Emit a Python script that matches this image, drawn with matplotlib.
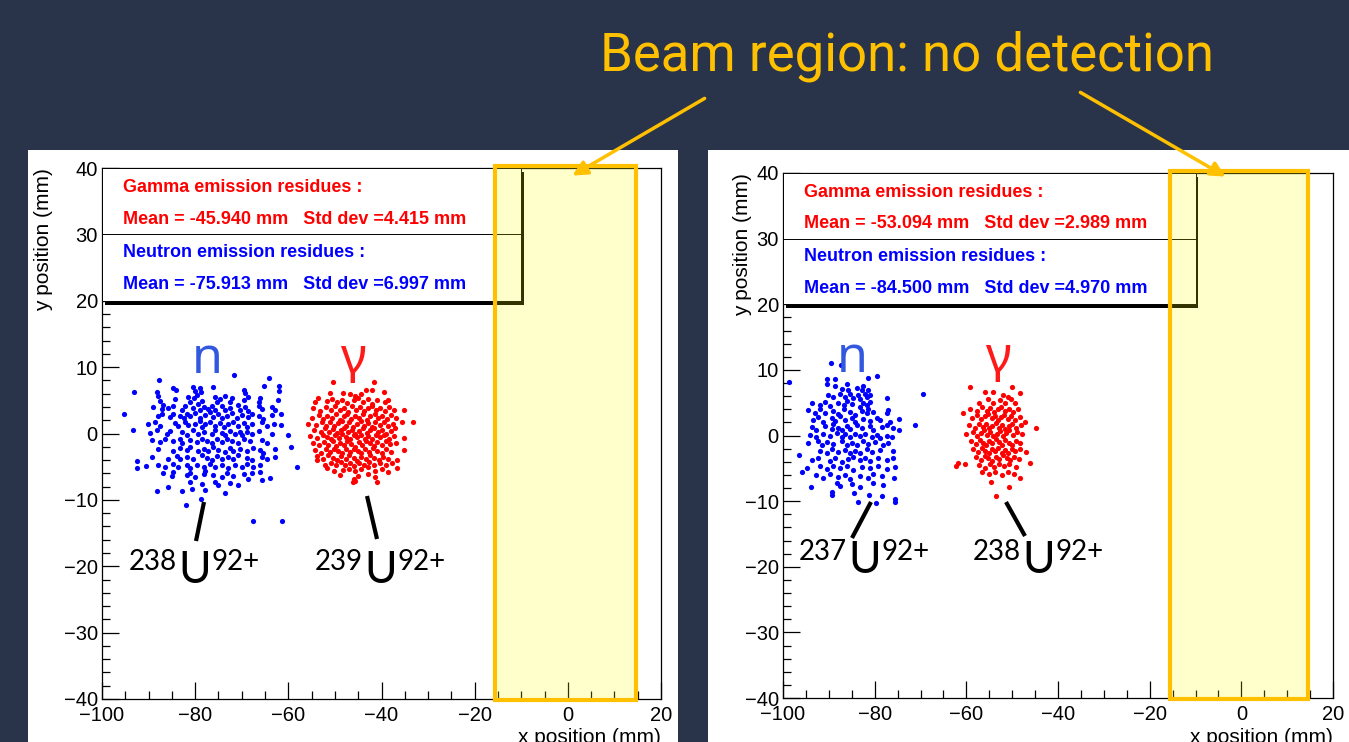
import matplotlib.pyplot as plt
from matplotlib.patches import Rectangle, FancyArrowPatch
from matplotlib.ticker import MultipleLocator

plt.rcParams['font.family'] = ['Liberation Sans', 'DejaVu Sans']

# residue hit positions, (x mm, y mm)
n_left = [
    (-87.8, 8.0), (-71.6, 8.8), (-64.1, 8.3),
    (-93.1, 6.2), (-88.3, 6.2), (-84.7, 6.8), (-84.2, 6.5), (-80.4, 7.0), (-80.0, 6.4), (-78.9, 6.8),
    (-78.7, 6.2), (-76.1, 7.0), (-69.6, 6.5), (-69.3, 6.1), (-65.3, 7.2), (-62.1, 7.2), (-62.0, 6.4),
    (-87.9, 5.6), (-87.5, 4.9), (-84.3, 5.2), (-81.5, 5.5), (-81.1, 4.8), (-80.2, 5.3), (-79.7, 5.8),
    (-78.5, 4.9), (-75.7, 5.5), (-75.4, 4.7), (-74.7, 5.2), (-73.6, 5.6), (-72.5, 4.8), (-72.1, 5.4),
    (-69.6, 5.1), (-68.6, 5.5), (-66.4, 4.8), (-66.1, 5.4), (-62.3, 5.0),
    (-89.0, 4.0), (-87.2, 3.7), (-86.8, 4.3), (-85.8, 3.9), (-84.7, 4.2), (-82.9, 3.6), (-82.2, 4.1),
    (-80.4, 3.8), (-79.3, 4.4), (-78.9, 3.5), (-78.2, 4.0), (-77.2, 3.7), (-76.4, 4.2), (-75.7, 3.6),
    (-74.2, 4.1), (-73.6, 3.5), (-72.5, 3.9), (-70.7, 4.3), (-70.4, 3.6), (-69.3, 4.0), (-68.6, 3.4),
    (-66.4, 4.1), (-65.7, 3.7), (-63.6, 4.0), (-62.8, 3.5),
    (-95.2, 3.0), (-87.9, 2.6), (-87.2, 2.9), (-85.4, 2.5), (-84.7, 3.0), (-83.3, 2.7), (-82.5, 2.3),
    (-81.8, 2.9), (-81.1, 2.6), (-80.0, 3.1), (-78.9, 2.4), (-77.9, 2.8), (-76.8, 3.2), (-76.1, 2.5),
    (-75.0, 2.9), (-74.3, 2.3), (-73.2, 2.7), (-72.1, 3.1), (-71.1, 2.4), (-70.0, 2.8), (-68.6, 2.5),
    (-67.9, 3.0), (-66.4, 2.6), (-65.4, 2.2), (-63.6, 2.8), (-61.6, 3.0),
    (-90.1, 1.4), (-88.6, 1.8), (-87.5, 1.2), (-84.3, 1.6), (-83.6, 1.1), (-82.2, 1.7), (-81.5, 1.3),
    (-80.0, 1.5), (-78.9, 1.9), (-78.6, 1.0), (-77.9, 1.4), (-76.8, 1.7), (-75.7, 1.2), (-74.7, 1.6),
    (-73.9, 1.0), (-72.9, 1.5), (-71.8, 1.8), (-70.7, 1.2), (-69.6, 1.6), (-68.9, 1.0), (-67.9, 1.4),
    (-65.7, 1.7), (-64.6, 1.1), (-63.0, 1.5), (-61.6, 1.3),
    (-93.3, 0.5), (-89.7, 0.1), (-88.3, 0.6), (-86.1, 0.0), (-85.4, 0.4), (-82.9, 0.2), (-81.8, -0.2),
    (-80.4, 0.5), (-79.3, 0.0), (-78.2, 0.3), (-76.4, -0.1), (-75.7, 0.5), (-74.3, 0.1), (-73.6, -0.3),
    (-72.5, 0.4), (-71.4, 0.0), (-70.4, 0.3), (-70.0, -0.2), (-68.9, 0.2), (-67.9, -0.1), (-66.4, 0.4),
    (-63.6, 0.0), (-60.1, -0.2),
    (-89.3, -1.0), (-87.5, -1.3), (-86.5, -0.8), (-84.7, -1.2), (-83.3, -0.9), (-82.9, -1.4), (-81.1, -1.0),
    (-79.7, -1.3), (-78.6, -0.8), (-77.5, -1.2), (-76.4, -1.5), (-75.4, -0.9), (-74.3, -1.3), (-73.2, -0.8),
    (-72.1, -1.1), (-70.7, -1.4), (-69.6, -0.9), (-68.2, -1.2), (-65.7, -1.0), (-64.6, -1.4), (-59.4, -2.0),
    (-87.9, -2.3), (-84.7, -2.6), (-83.3, -2.2), (-81.8, -2.5), (-81.1, -2.1), (-79.3, -2.7), (-78.2, -2.3),
    (-77.2, -2.6), (-76.1, -2.1), (-75.0, -2.5), (-73.6, -2.8), (-72.5, -2.2), (-71.8, -2.6), (-70.4, -2.3),
    (-68.9, -2.7), (-67.5, -2.2), (-66.1, -2.5), (-65.4, -2.9), (-62.8, -2.4),
    (-92.5, -4.2), (-89.3, -3.5), (-85.8, -3.8), (-84.0, -3.4), (-83.3, -3.9), (-81.8, -3.5), (-80.4, -3.8),
    (-78.6, -3.3), (-77.5, -3.7), (-76.4, -4.0), (-75.4, -3.4), (-74.3, -3.8), (-72.9, -3.5), (-71.8, -3.9),
    (-70.7, -3.3), (-68.9, -3.7), (-67.9, -4.0), (-65.7, -3.5), (-64.6, -3.9), (-62.8, -3.6),
    (-92.5, -5.2), (-90.5, -4.9), (-87.9, -4.7), (-86.5, -5.1), (-84.7, -4.6), (-83.6, -5.0), (-81.8, -4.7),
    (-81.1, -5.2), (-79.7, -4.8), (-78.2, -5.1), (-76.8, -4.6), (-75.7, -5.0), (-74.3, -4.7), (-72.9, -5.2),
    (-71.4, -4.8), (-70.0, -5.1), (-68.9, -4.6), (-67.5, -5.0), (-66.0, -4.8), (-58.2, -5.0),
    (-86.8, -6.0), (-85.0, -6.4), (-84.7, -5.8), (-81.8, -6.3), (-81.1, -5.9), (-80.0, -6.5), (-78.2, -6.1),
    (-77.9, -5.7), (-76.1, -6.2), (-74.3, -6.6), (-73.2, -6.0), (-71.8, -6.4), (-69.6, -6.1), (-67.9, -5.9),
    (-66.0, -5.8), (-63.9, -6.7),
    (-85.9, -8.0), (-81.1, -7.3), (-78.6, -7.6), (-75.7, -7.3), (-75.0, -7.8), (-72.5, -7.5), (-70.7, -7.8),
    (-68.6, -6.8), (-65.7, -7.0),
    (-88.3, -8.7), (-82.9, -8.7), (-80.6, -8.3), (-77.9, -8.5), (-73.6, -8.9),
    (-82.0, -10.7), (-78.7, -9.8), (-67.6, -13.2), (-61.4, -13.2),
]

g_left = [
    (-50.5, 7.7), (-41.6, 7.8),
    (-51.0, 6.1), (-48.2, 6.1), (-46.8, 6.0), (-43.3, 6.6), (-42.1, 6.5), (-39.5, 6.3), (-45.6, 5.7), (-44.4, 6.0),
    (-54.3, 4.8), (-53.6, 5.3), (-51.8, 4.9), (-50.7, 5.2), (-49.6, 4.7), (-48.5, 5.1), (-47.5, 4.6), (-46.0, 5.0),
    (-45.0, 5.4), (-43.9, 4.8), (-42.8, 5.2), (-42.1, 4.5), (-41.0, 5.0), (-39.2, 4.7), (-38.5, 5.1),
    (-54.6, 3.8), (-53.2, 3.4), (-52.0, 4.0), (-50.8, 3.6), (-49.9, 4.1), (-48.9, 3.5), (-48.0, 3.9), (-47.2, 3.3),
    (-46.3, 4.2), (-45.5, 3.6), (-44.6, 4.0), (-43.7, 3.4), (-42.9, 3.8), (-42.0, 4.2), (-41.2, 3.5), (-40.3, 3.9),
    (-39.3, 3.4), (-38.3, 4.0), (-37.4, 3.6), (-35.2, 3.5),
    (-55.0, 2.4), (-53.5, 2.8), (-52.5, 2.2), (-51.6, 2.7), (-50.6, 2.3), (-49.8, 2.9), (-49.0, 2.1), (-48.1, 2.6),
    (-47.3, 3.0), (-46.5, 2.2), (-45.7, 2.7), (-44.9, 2.3), (-44.0, 2.9), (-43.2, 2.1), (-42.4, 2.6), (-41.5, 3.0),
    (-40.7, 2.3), (-39.8, 2.7), (-38.9, 2.2), (-38.0, 2.8), (-36.9, 2.4),
    (-55.7, 1.5), (-54.0, 1.3), (-52.8, 1.8), (-51.9, 1.2), (-51.0, 1.7), (-50.1, 1.1), (-49.3, 1.6), (-48.5, 1.9),
    (-47.7, 1.2), (-46.9, 1.7), (-46.1, 1.0), (-45.3, 1.5), (-44.5, 1.9), (-43.7, 1.2), (-42.9, 1.6), (-42.1, 1.0),
    (-41.3, 1.8), (-40.4, 1.3), (-39.5, 1.7), (-38.6, 1.1), (-37.6, 1.5), (-35.7, 1.8), (-33.2, 1.8),
    (-54.4, 0.6), (-53.0, 0.2), (-52.1, 0.8), (-51.3, 0.3), (-50.4, 0.7), (-49.6, 0.1), (-48.8, 0.5), (-48.0, 0.9),
    (-47.2, 0.2), (-46.4, 0.6), (-45.6, 0.0), (-44.8, 0.4), (-44.0, 0.8), (-43.2, 0.1), (-42.4, 0.5), (-41.6, 0.9),
    (-40.8, 0.2), (-39.9, 0.6), (-39.0, 0.0), (-38.0, 0.4), (-37.0, 0.8),
    (-55.3, -0.4), (-53.8, -0.7), (-52.6, -0.2), (-51.7, -0.6), (-50.9, -0.9), (-50.0, -0.3), (-49.2, -0.7),
    (-48.4, -0.1), (-47.6, -0.5), (-46.8, -0.9), (-46.0, -0.3), (-45.2, -0.6), (-44.4, -0.2), (-43.6, -0.8),
    (-42.8, -0.4), (-42.0, -0.9), (-41.2, -0.2), (-40.3, -0.6), (-39.4, -0.3), (-38.4, -0.8), (-37.3, -0.4),
    (-35.1, -0.7),
    (-54.8, -1.4), (-53.4, -1.8), (-52.3, -1.3), (-51.4, -1.7), (-50.5, -1.2), (-49.7, -1.9), (-48.9, -1.4),
    (-48.1, -1.8), (-47.3, -1.2), (-46.5, -1.6), (-45.7, -2.0), (-44.9, -1.3), (-44.1, -1.7), (-43.3, -1.1),
    (-42.5, -1.5), (-41.7, -1.9), (-40.9, -1.3), (-40.0, -1.7), (-39.1, -1.2), (-38.1, -1.6), (-36.8, -1.4),
    (-54.2, -2.5), (-52.9, -2.9), (-51.9, -2.4), (-51.0, -2.8), (-50.1, -2.3), (-49.3, -2.7), (-48.5, -3.0),
    (-47.6, -2.4), (-46.8, -2.8), (-45.9, -2.3), (-45.1, -2.7), (-44.3, -3.0), (-43.5, -2.4), (-42.6, -2.8),
    (-41.8, -2.2), (-40.9, -2.6), (-40.0, -3.0), (-39.0, -2.4), (-37.9, -2.8), (-35.1, -2.5),
    (-53.8, -3.4), (-52.5, -3.8), (-51.4, -3.3), (-50.4, -3.7), (-49.5, -4.0), (-48.6, -3.4), (-47.7, -3.8),
    (-46.9, -3.3), (-46.0, -3.7), (-45.2, -4.1), (-44.3, -3.5), (-43.4, -3.9), (-42.5, -3.3), (-41.6, -3.7),
    (-40.6, -4.0), (-39.6, -3.5), (-38.5, -3.8), (-36.7, -4.0),
    (-53.9, -4.0), (-52.2, -4.7), (-50.9, -4.4), (-49.8, -4.8), (-48.8, -4.3), (-47.8, -4.7), (-46.8, -4.4),
    (-45.8, -4.9), (-44.8, -4.5), (-43.8, -4.8), (-42.7, -4.3), (-41.6, -4.7), (-40.4, -4.4), (-39.0, -4.8),
    (-37.8, -4.5),
    (-51.8, -5.2), (-50.2, -5.6), (-48.2, -5.5), (-47.0, -5.3), (-45.6, -5.7), (-44.3, -5.4), (-42.8, -5.0),
    (-41.5, -5.6), (-40.0, -5.3), (-38.6, -5.8), (-36.7, -5.2),
    (-49.0, -6.2), (-46.0, -6.8), (-45.0, -6.4), (-43.0, -6.1), (-41.3, -6.5),
    (-46.2, -7.3), (-45.6, -7.2), (-40.9, -7.3),
]

n_right = [
    (-90.5, 8.6), (-88.7, 8.6), (-81.4, 8.8), (-79.6, 9.0), (-90.5, 7.9), (-98.6, 8.2), (-89.5, 11.0), (-87.3, 10.7),
    (-88.7, 7.6), (-87.2, 7.1), (-86.1, 7.8), (-85.8, 7.0), (-83.9, 7.3), (-82.8, 6.9), (-82.5, 7.6), (-81.4, 7.0),
    (-90.1, 6.2), (-89.0, 5.8), (-87.6, 6.4), (-86.5, 5.9), (-85.4, 6.3), (-84.7, 5.7), (-83.6, 6.1), (-83.2, 5.6),
    (-82.1, 6.4), (-81.7, 5.8), (-81.0, 6.2), (-77.4, 5.7), (-69.4, 6.3),
    (-93.7, 4.9), (-91.9, 4.7), (-90.8, 5.1), (-89.7, 4.5), (-87.9, 4.9), (-86.8, 4.6), (-86.1, 5.2), (-85.0, 4.8),
    (-83.2, 4.4), (-82.5, 5.0), (-81.7, 4.6), (-81.0, 5.1),
    (-94.5, 3.9), (-93.0, 3.5), (-91.9, 4.0), (-90.8, 3.4), (-89.0, 3.8), (-87.9, 3.3), (-86.8, 4.0), (-85.4, 3.6),
    (-84.3, 3.2), (-82.8, 3.8), (-81.7, 3.4), (-81.4, 4.1), (-80.3, 3.6), (-77.4, 3.4), (-77.0, 3.9),
    (-93.4, 2.4), (-92.3, 2.8), (-91.2, 2.1), (-89.4, 2.6), (-88.7, 2.2), (-87.6, 2.9), (-86.5, 2.3), (-85.0, 2.7),
    (-84.3, 2.0), (-82.5, 2.5), (-81.0, 2.2), (-79.6, 2.7), (-78.8, 2.3), (-76.7, 2.0), (-74.8, 2.5),
    (-93.7, 1.3), (-92.7, 0.9), (-90.8, 1.5), (-89.4, 1.0), (-89.0, 1.7), (-87.9, 1.2), (-87.2, 0.8), (-86.1, 1.4),
    (-85.4, 1.0), (-83.9, 1.6), (-82.8, 1.1), (-81.0, 1.4), (-80.3, 0.9), (-78.5, 1.3), (-77.4, 1.6), (-75.9, 1.1),
    (-74.8, 0.8), (-71.1, 1.6),
    (-94.1, 0.1), (-92.7, -0.2), (-91.2, 0.3), (-89.7, -0.1), (-88.3, 0.4), (-87.2, -0.3), (-86.5, 0.2), (-85.4, -0.2),
    (-84.3, 0.3), (-83.2, -0.1), (-82.1, 0.2), (-80.6, -0.3), (-79.6, 0.1), (-78.8, -0.4), (-77.4, 0.0), (-76.3, -0.2),
    (-94.5, -1.2), (-92.3, -0.8), (-91.6, -1.4), (-90.5, -1.0), (-89.0, -1.3), (-87.2, -0.9), (-86.1, -1.5),
    (-85.0, -1.1), (-83.9, -1.4), (-82.5, -0.9), (-81.4, -1.3), (-79.9, -1.0), (-78.1, -1.4), (-77.0, -1.1),
    (-96.6, -3.0), (-91.9, -2.3), (-90.5, -2.6), (-89.4, -2.1), (-87.9, -2.5), (-86.5, -2.2), (-85.4, -2.7),
    (-84.3, -2.3), (-83.2, -2.6), (-81.7, -2.1), (-80.6, -2.5), (-78.8, -2.2), (-75.9, -2.4),
    (-93.7, -3.8), (-92.3, -3.4), (-89.7, -3.9), (-88.7, -3.5), (-87.2, -4.0), (-85.8, -3.6), (-84.7, -3.3),
    (-83.2, -3.8), (-82.1, -3.4), (-81.0, -3.9), (-79.2, -3.5), (-77.4, -3.8), (-75.9, -3.5),
    (-95.9, -5.6), (-94.8, -5.0), (-91.9, -4.7), (-90.5, -5.1), (-89.0, -4.6), (-87.6, -5.0), (-86.1, -4.7),
    (-84.7, -5.2), (-82.8, -4.8), (-81.0, -5.0), (-79.2, -4.6), (-77.4, -5.1), (-75.6, -4.8),
    (-92.7, -6.0), (-91.2, -6.4), (-89.7, -5.9), (-87.9, -6.3), (-86.5, -6.0), (-85.4, -6.6), (-83.2, -6.1),
    (-81.4, -6.4), (-80.3, -5.9), (-78.5, -6.2), (-75.7, -6.5),
    (-93.9, -7.8), (-88.3, -7.3), (-87.6, -7.7), (-85.0, -7.4), (-83.2, -7.8), (-80.3, -7.3), (-78.1, -7.6),
    (-89.4, -8.6), (-89.4, -9.0), (-81.2, -9.1), (-78.5, -9.2), (-75.6, -9.6), (-83.7, -10.2), (-79.7, -10.3),
    (-75.6, -10.2), (-84.6, -8.8),
]

g_right = [
    (-59.2, 7.4), (-50.1, 7.4), (-56.0, 6.6), (-54.1, 6.7), (-48.3, 6.5), (-52.0, 6.1), (-50.9, 5.9),
    (-57.3, 5.0), (-55.3, 5.5), (-54.1, 4.9), (-52.7, 5.4), (-51.6, 5.0), (-50.2, 5.6), (-49.4, 4.9),
    (-59.2, 4.1), (-57.7, 3.8), (-56.6, 4.3), (-55.6, 3.7), (-54.8, 4.2), (-54.0, 3.6), (-53.2, 4.0), (-52.4, 4.4),
    (-51.6, 3.7), (-50.8, 4.1), (-49.8, 3.6), (-48.8, 4.0),
    (-60.8, 3.4), (-58.8, 2.7), (-57.6, 3.1), (-56.8, 2.5), (-56.0, 2.9), (-55.2, 3.3), (-54.5, 2.6), (-53.8, 3.0),
    (-53.1, 2.4), (-52.4, 2.8), (-51.7, 3.2), (-51.0, 2.5), (-50.2, 2.9), (-49.3, 2.4), (-48.4, 2.8), (-47.2, 2.0),
    (-59.5, 1.6), (-58.1, 1.2), (-57.2, 1.8), (-56.4, 1.3), (-55.7, 1.7), (-55.0, 1.1), (-54.3, 1.5), (-53.6, 1.9),
    (-52.9, 1.2), (-52.2, 1.6), (-51.5, 1.0), (-50.8, 1.4), (-50.0, 1.8), (-49.1, 1.2), (-48.1, 1.6), (-44.7, 1.2),
    (-60.1, 0.2), (-58.6, 0.6), (-57.7, 0.0), (-56.9, 0.4), (-56.2, 0.8), (-55.5, 0.1), (-54.8, 0.5), (-54.1, -0.1),
    (-53.4, 0.3), (-52.7, 0.7), (-52.0, 0.0), (-51.3, 0.4), (-50.6, 0.8), (-49.8, 0.1), (-48.9, 0.5), (-47.8, 0.2),
    (-59.0, -0.9), (-57.9, -1.3), (-57.1, -0.7), (-56.4, -1.1), (-55.7, -1.5), (-55.0, -0.8), (-54.3, -1.2),
    (-53.6, -0.6), (-52.9, -1.0), (-52.2, -1.4), (-51.5, -0.7), (-50.8, -1.1), (-50.0, -1.5), (-49.2, -0.8),
    (-48.2, -1.2),
    (-58.5, -2.1), (-57.4, -2.5), (-56.6, -1.9), (-55.9, -2.3), (-55.1, -2.7), (-54.4, -2.0), (-53.7, -2.4),
    (-53.0, -1.9), (-52.3, -2.6), (-51.6, -2.2), (-50.9, -2.7), (-50.1, -2.0), (-49.3, -2.4), (-48.3, -2.1),
    (-46.9, -2.5),
    (-58.0, -3.3), (-56.9, -3.7), (-56.0, -3.1), (-55.2, -3.5), (-54.4, -3.9), (-53.6, -3.2), (-52.8, -3.6),
    (-52.0, -3.0), (-51.2, -3.4), (-50.4, -3.8), (-49.5, -3.2), (-48.5, -3.6),
    (-62.3, -4.6), (-61.8, -4.2), (-60.2, -4.3), (-57.3, -4.5), (-56.0, -4.9), (-54.9, -4.4), (-53.9, -4.8),
    (-52.9, -4.3), (-51.8, -4.7), (-50.6, -4.4), (-49.2, -4.8), (-46.1, -4.2),
    (-56.5, -5.6), (-55.0, -5.9), (-53.7, -5.5), (-52.3, -6.0), (-51.0, -5.6), (-49.5, -5.8), (-48.2, -6.5),
    (-50.6, -7.8), (-53.5, -9.2), (-54.6, -7.1),
]

stats_left = ['Gamma emission residues :', 'Mean = -45.940 mm   Std dev =4.415 mm',
              'Neutron emission residues :', 'Mean = -75.913 mm   Std dev =6.997 mm']
stats_right = ['Gamma emission residues :', 'Mean = -53.094 mm   Std dev =2.989 mm',
               'Neutron emission residues :', 'Mean = -84.500 mm   Std dev =4.970 mm']
stats_y = [37.1, 32.3, 27.3, 22.4]
stats_col = ['#ff0000', '#ff0000', '#0000ff', '#0000ff']

isotopes_left = [('238', '92+'), ('239', '92+')]
isotopes_right = [('237', '92+'), ('238', '92+')]
title = 'Beam region: no detection'
beam_x = (-15.6, 14.6)

W, H = 1349, 742
BG = '#29344a'
GOLD = '#ffc000'

fig = plt.figure(figsize=(W / 100, H / 100), dpi=100)
fig.patch.set_facecolor(BG)


def fx(px):
    return px / W


def fy(py):
    return 1 - py / H


# layout of the two ROOT canvases, in image pixels
panels = [
    dict(bg=(28, 678), ax=(102, 168, 661, 699), n=n_left, g=g_left, stats=stats_left, iso=isotopes_left,
         n_lbl=(207, 373), g_lbl=(353, 373), n_line=((204, 502), (196, 541)), g_line=((367, 496), (377, 539)),
         iso_pos=[(129, 570), (315, 570)], ylab_x=44),
    dict(bg=(708, 1349), ax=(783, 173, 1333, 698), n=n_right, g=g_right, stats=stats_right, iso=isotopes_right,
         n_lbl=(852, 372), g_lbl=(998, 372), n_line=((871, 502), (852, 538)), g_line=((1006, 502), (1025, 536)),
         iso_pos=[(799, 560), (973, 560)], ylab_x=743),
]

renderer = fig.canvas.get_renderer()

for p in panels:
    x0, x1 = p['bg']
    fig.patches.append(Rectangle((fx(x0), 0), (x1 - x0) / W, fy(150), transform=fig.transFigure,
                                 facecolor='white', edgecolor='none', zorder=-5))
    l, t, r, b = p['ax']
    ax = fig.add_axes([fx(l), fy(b), (r - l) / W, (b - t) / H])
    ax.set_xlim(-100, 20)
    ax.set_ylim(-40, 40)
    ax.xaxis.set_major_locator(MultipleLocator(20))
    ax.xaxis.set_minor_locator(MultipleLocator(5))
    ax.yaxis.set_major_locator(MultipleLocator(10))
    ax.yaxis.set_minor_locator(MultipleLocator(2))
    ax.tick_params(which='both', direction='in', top=False, right=False, labelsize=14.5, width=0.9)
    ax.tick_params(which='major', length=12)
    ax.tick_params(which='minor', length=6)
    ax.tick_params(axis='x', pad=5)
    ax.tick_params(axis='y', pad=3)
    for s in ax.spines.values():
        s.set_linewidth(0.9)

    nx, ny = zip(*p['n'])
    gx, gy = zip(*p['g'])
    ax.scatter(nx, ny, s=14, color='#0000ff', linewidths=0, zorder=2)
    ax.scatter(gx, gy, s=14, color='#ff0000', linewidths=0, zorder=2)

    # stats box with ROOT-like shadow
    ax.add_patch(Rectangle((-99.35, 19.4), 90, 20, facecolor='black', edgecolor='none', zorder=3))
    ax.add_patch(Rectangle((-100, 20), 90, 20, facecolor='white', edgecolor='black', lw=0.7, zorder=3.1))
    ax.plot([-100, -10], [30, 30], color='black', lw=0.7, zorder=3.2)
    for txt, yy, col in zip(p['stats'], stats_y, stats_col):
        ax.text(-95.5, yy, txt, color=col, fontsize=13, fontweight='bold', va='center', zorder=4)

    # beam region
    ax.add_patch(Rectangle((beam_x[0], -40.15), beam_x[1] - beam_x[0], 80.4, facecolor=(1, 1, 0, 0.2),
                           edgecolor=GOLD, lw=3, clip_on=False, zorder=5))

    fig.text(fx(r), fy(728), 'x position (mm)', fontsize=15, ha='right', va='top')
    fig.text(fx(p['ylab_x']), fy(t), 'y position (mm)', fontsize=15, rotation=90, ha='center', va='top')

    # cluster labels
    fig.text(fx(p['n_lbl'][0]), fy(p['n_lbl'][1]), 'n', fontsize=36, color='#3358e0',
             family=['Noto Sans', 'DejaVu Sans'], ha='center', va='baseline')
    fig.text(fx(p['g_lbl'][0]), fy(p['g_lbl'][1]), 'γ', fontsize=36, color='#ff1a1a',
             family=['Noto Sans', 'DejaVu Sans'], ha='center', va='baseline')
    for (a, bb) in (p['n_line'], p['g_line']):
        fig.lines.append(plt.Line2D([fx(a[0]), fx(bb[0])], [fy(a[1]), fy(bb[1])], transform=fig.transFigure,
                                    color='black', lw=3, solid_capstyle='butt'))

    for (mass, charge), (ix, base) in zip(p['iso'], p['iso_pos']):
        tm = fig.text(fx(ix), fy(base), mass, fontsize=20, family=['Lato', 'DejaVu Sans'], va='baseline')
        xe = tm.get_window_extent(renderer).x1
        tu = fig.text((xe + 1) / W, fy(base + 13), 'U', fontsize=32, family=['Lato', 'DejaVu Sans'],
                      va='baseline')
        xe = tu.get_window_extent(renderer).x1
        fig.text((xe + 1) / W, fy(base), charge, fontsize=20, family=['Lato', 'DejaVu Sans'], va='baseline')

fig.text(fx(907), fy(70), title, fontsize=38, color=GOLD, family=['Roboto', 'DejaVu Sans'],
         ha='center', va='baseline')

for start, end in [((707, 97), (570, 177)), ((1078, 91), (1228, 178))]:
    fig.patches.append(FancyArrowPatch((fx(start[0]), fy(start[1])), (fx(end[0]), fy(end[1])),
                                       transform=fig.transFigure, arrowstyle='-|>', mutation_scale=22,
                                       color=GOLD, lw=2.5, zorder=10))

fig.savefig('out.png', dpi=100, facecolor=fig.get_facecolor())
